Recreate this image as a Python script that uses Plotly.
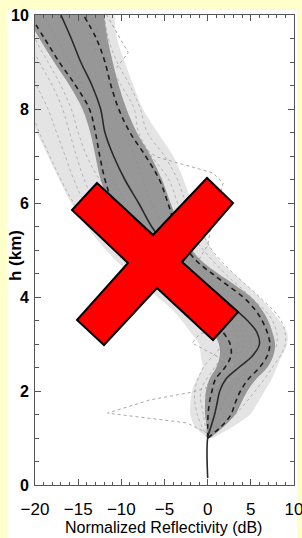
import plotly.graph_objects as go

# ---------------- data ----------------
heights = [1.0, 1.25, 1.5, 1.75, 2.0, 2.25, 2.5, 2.75, 3.0, 3.25, 3.5, 3.75, 4.0, 4.25,
           4.5, 4.75, 5.0, 5.5, 6.0, 6.5, 7.0, 7.5, 8.0, 8.5, 9.0, 9.5, 10.0]
mean_heights = [0.15] + heights
mean_refl = [0.0, 0.0, 0.4, 0.8, 1.1, 1.4, 2.1, 3.6, 5.2, 6.0, 5.7, 4.6, 3.1, 1.6, 0.0,
             -1.7, -3.2, -4.5, -6.5, -8.0, -9.6, -10.9, -11.9, -12.4, -13.4, -14.7, -15.8, -17.0]
upper_refl = [0.0, 1.6, 2.7, 3.2, 3.8, 4.7, 6.0, 6.9, 7.2, 6.9, 6.3, 5.4, 4.1, 2.3, 0.5,
              -1.2, -2.3, -3.7, -4.6, -5.6, -7.2, -9.0, -10.3, -11.2, -11.9, -12.9, -14.4]
lower_refl = [0.0, 0.0, 0.05, 0.2, 0.5, 0.9, 2.0, 2.7, 2.6, 1.8, 0.8, -0.5, -1.9, -3.4, -4.9,
              -6.3, -7.5, -9.6, -11.0, -11.9, -12.5, -13.0, -13.7, -15.3, -17.2, -18.9, -20.6]
band_left = [0.0, -0.1, -0.3, -0.3, -0.2, 0.2, 1.0, 1.4, 1.3, 0.6, -0.4, -1.6, -3.0, -4.5, -6.0,
             -7.3, -8.5, -10.3, -11.4, -12.4, -13.0, -13.6, -14.5, -16.0, -17.8, -19.5, -21.0]
band_right = [0.3, 1.9, 3.2, 3.9, 4.6, 5.6, 6.9, 7.6, 7.8, 7.5, 7.0, 6.2, 5.0, 3.2, 1.2,
              -0.6, -1.8, -3.2, -4.3, -5.3, -6.6, -8.2, -9.4, -10.3, -11.0, -11.6, -12.0]
env_left = [0.0, -1.5, -2.0, -2.0, -1.8, -1.3, -0.6, -0.8, -1.0, -2.0, -3.0, -4.2, -5.8, -7.5,
            -9.0, -10.5, -11.8, -14.0, -15.8, -17.2, -18.5, -19.8, -21.0, -21.0, -21.0, -21.0, -21.0]
env_right = [0.6, 3.0, 4.9, 5.8, 6.6, 7.4, 8.0, 8.6, 9.2, 9.2, 8.3, 7.2, 6.0, 4.5, 3.0,
             1.5, 0.5, -0.8, -1.8, -2.8, -4.0, -5.8, -7.5, -8.6, -9.6, -10.5, -10.8]

profile_heights = [1.0, 1.5, 2.0, 2.5, 3.0, 3.5, 4.0, 4.5, 5.0, 5.5, 6.0, 6.5, 7.0, 7.5, 8.0,
                   8.5, 9.0, 9.5, 10.0]
profile_a = [0.0, -1.2, -1.5, -0.5, 1.5, 0.0, -3.5, -7.0, -10.5, -13.0, -15.5, -17.0, -18.3,
             -19.5, -20.5, -21.0, -21.0, -21.0, -21.0]
profile_b = [0.0, -0.5, -0.8, 0.8, 2.5, 1.0, -2.5, -6.0, -9.5, -12.0, -14.2, -15.5, -16.5,
             -17.5, -18.5, -19.8, -21.0, -21.0, -21.0]
profile_c = [0.0, 0.2, 0.3, 1.5, 3.5, 2.5, -1.0, -4.5, -8.0, -10.5, -13.0, -14.3, -15.2,
             -16.0, -16.8, -18.0, -19.5, -20.8, -21.0]
profile_d = [0.0, 2.0, 3.5, 6.0, 8.0, 7.5, 5.0, 2.0, -0.5, -2.5, -3.5, -4.5, -6.5, -8.0,
             -8.5, -10.0, -11.5, -12.5, -13.5]
profile_e = [0.0, 3.2, 5.5, 7.5, 9.0, 8.5, 6.0, 3.0, 0.5, -1.0, -2.5, -3.5, -5.0, -7.0,
             -7.8, -9.0, -10.5, -11.5, -12.0]
profile_f = [0.0, 1.2, 2.5, 5.0, 7.0, 6.0, 3.0, -0.5, -3.0, -5.0, -6.5, -7.5, -8.5, -9.5,
             -10.5, -11.5, -12.5, -13.5, -15.0]
profile_g = [0.0, 0.5, 1.0, 3.0, 5.0, 3.5, 0.5, -3.0, -6.0, -8.0, -9.5, -11.0, -12.0, -13.0,
             -13.5, -14.5, -16.0, -17.5, -19.0]
profile_h = [0.0, -0.2, 0.0, 2.0, 4.2, 3.0, 0.0, -2.5, -5.5, -7.5, -10.0, -12.5, -14.0, -15.0,
             -15.8, -17.0, -18.5, -20.0, -21.0]
profiles = [profile_a, profile_b, profile_c, profile_d, profile_e, profile_f, profile_g, profile_h]

outlier1_h = [1.1, 1.32, 1.53, 1.81, 1.98, 2.23, 2.5]
outlier1_x = [0.0, -2.4, -11.6, -6.7, -1.7, 2.6, 4.0]
outlier2_h = [2.55, 2.8, 3.02, 3.2, 3.4]
outlier2_x = [3.0, 0.5, -1.8, -1.0, 1.5]
outlier3_h = [8.6, 8.77, 9.2, 9.6, 10.0]
outlier3_x = [-12.0, -11.0, -9.2, -10.5, -11.7]
outlier4_h = [4.8, 5.1, 5.4, 5.8, 6.1, 6.43, 6.64, 6.98, 7.3]
outlier4_x = [-1.0, 0.0, 0.3, 0.8, 1.3, 1.8, 0.6, -5.9, -8.5]

x_ticks = [-20, -15, -10, -5, 0, 5, 10]
x_ticktext = ["\u221220", "\u221215", "\u221210", "\u22125", "0", "5", "10"]
y_ticks = [0, 2, 4, 6, 8, 10]

# ---------------- figure ----------------
W, HPX = 302, 538
ML, MR, MT, MB = 35, 8, 15, 53
PW, PH = W - ML - MR, HPX - MT - MB

def px(xp):
    return (xp - ML) / PW

def py(yp):
    return (HPX - MB - yp) / PH

fig = go.Figure()

# light envelope of all profiles
fig.add_trace(go.Scatter(x=env_left, y=heights, mode="lines", line=dict(width=0, shape="spline"),
                         hoverinfo="skip", showlegend=False))
fig.add_trace(go.Scatter(x=env_right, y=heights, mode="lines", line=dict(width=0, shape="spline"),
                         fill="tonextx", fillcolor="#e4e4e4", hoverinfo="skip", showlegend=False))

for p in profiles:
    fig.add_trace(go.Scatter(x=p, y=profile_heights, mode="lines",
                             line=dict(color="#b4b4b4", width=1, dash="dot", shape="spline"),
                             hoverinfo="skip", showlegend=False))

# dense band
fig.add_trace(go.Scatter(x=band_left, y=heights, mode="lines", line=dict(width=0, shape="spline"),
                         hoverinfo="skip", showlegend=False))
fig.add_trace(go.Scatter(x=band_right, y=heights, mode="lines", line=dict(width=0, shape="spline"),
                         fill="tonextx", fillcolor="rgba(140,140,140,0.88)",
                         hoverinfo="skip", showlegend=False))

for ox, oh in [(outlier1_x, outlier1_h), (outlier2_x, outlier2_h),
               (outlier3_x, outlier3_h), (outlier4_x, outlier4_h)]:
    fig.add_trace(go.Scatter(x=ox, y=oh, mode="lines",
                             line=dict(color="#a8a8a8", width=1, dash="dot"),
                             hoverinfo="skip", showlegend=False))

for d in (lower_refl, upper_refl):
    fig.add_trace(go.Scatter(x=d, y=heights, mode="lines",
                             line=dict(color="#1e1e1e", width=1.6, dash="5px,4px", shape="spline"),
                             hoverinfo="skip", showlegend=False))

fig.add_trace(go.Scatter(x=mean_refl, y=mean_heights, mode="lines",
                         line=dict(color="#2a2a2a", width=1.6, shape="spline"),
                         hoverinfo="skip", showlegend=False))

# red X overlay (pixel outline converted to paper coords)
x_pts = [(97, 183), (153, 235), (207, 178), (233, 203), (182, 262), (238, 312),
         (213, 340), (157, 288), (104, 345), (77, 320), (128, 263), (72, 210)]
path = "M " + " L ".join(f"{px(a):.4f},{py(b):.4f}" for a, b in x_pts) + " Z"

axis_col = "#555555"
fig.update_layout(
    width=W, height=HPX,
    margin=dict(l=ML, r=MR, t=MT, b=MB, autoexpand=False),
    paper_bgcolor="#ffffcc",
    plot_bgcolor="white",
    showlegend=False,
    shapes=[
        dict(type="rect", xref="paper", yref="paper", layer="below",
             x0=px(7), x1=px(297), y0=py(540), y1=py(10),
             fillcolor="white", line=dict(width=0)),
        dict(type="path", xref="paper", yref="paper", path=path,
             fillcolor="#ff0000", line=dict(color="black", width=2)),
    ],
    xaxis=dict(range=[-20, 10], tickvals=x_ticks, ticktext=x_ticktext, automargin=False,
               ticklabeloverflow="allow",
               ticks="inside", ticklen=6, tickwidth=1, tickcolor=axis_col,
               showline=True, linecolor=axis_col, linewidth=1, mirror="ticks",
               showgrid=False, zeroline=False,
               minor=dict(dtick=1, tick0=0, ticks="inside", ticklen=3, tickcolor=axis_col),
               tickfont=dict(family="Liberation Sans, Arial, sans-serif", size=17, color="black"),
               ticklabelstandoff=9),
    yaxis=dict(range=[0, 10], tickvals=y_ticks, automargin=False,
               ticklabeloverflow="allow",
               ticks="inside", ticklen=6, tickwidth=1, tickcolor=axis_col,
               showline=True, linecolor=axis_col, linewidth=1, mirror="ticks",
               showgrid=False, zeroline=False,
               minor=dict(dtick=0.5, tick0=0, ticks="inside", ticklen=4, tickcolor=axis_col),
               tickfont=dict(family="Liberation Sans, Arial, sans-serif", size=16,
                             color="black", weight="bold"),
               ticklabelstandoff=2),
    annotations=[
        dict(text="Normalized Reflectivity (dB)", xref="paper", yref="paper",
             x=px(163), y=py(527), xanchor="center", yanchor="middle", showarrow=False,
             font=dict(family="Liberation Sans, Arial, sans-serif", size=16, color="black")),
        dict(text="h (km)", xref="paper", yref="paper", textangle=-90,
             x=px(15), y=py(256), xanchor="center", yanchor="middle", showarrow=False,
             font=dict(family="Liberation Sans, Arial, sans-serif", size=17, color="black",
                       weight="bold")),
    ],
)

fig.write_html("out.html", config={"displayModeBar": False},
               post_script="document.body.style.margin='0px';"
                           "document.body.style.overflow='hidden';")
